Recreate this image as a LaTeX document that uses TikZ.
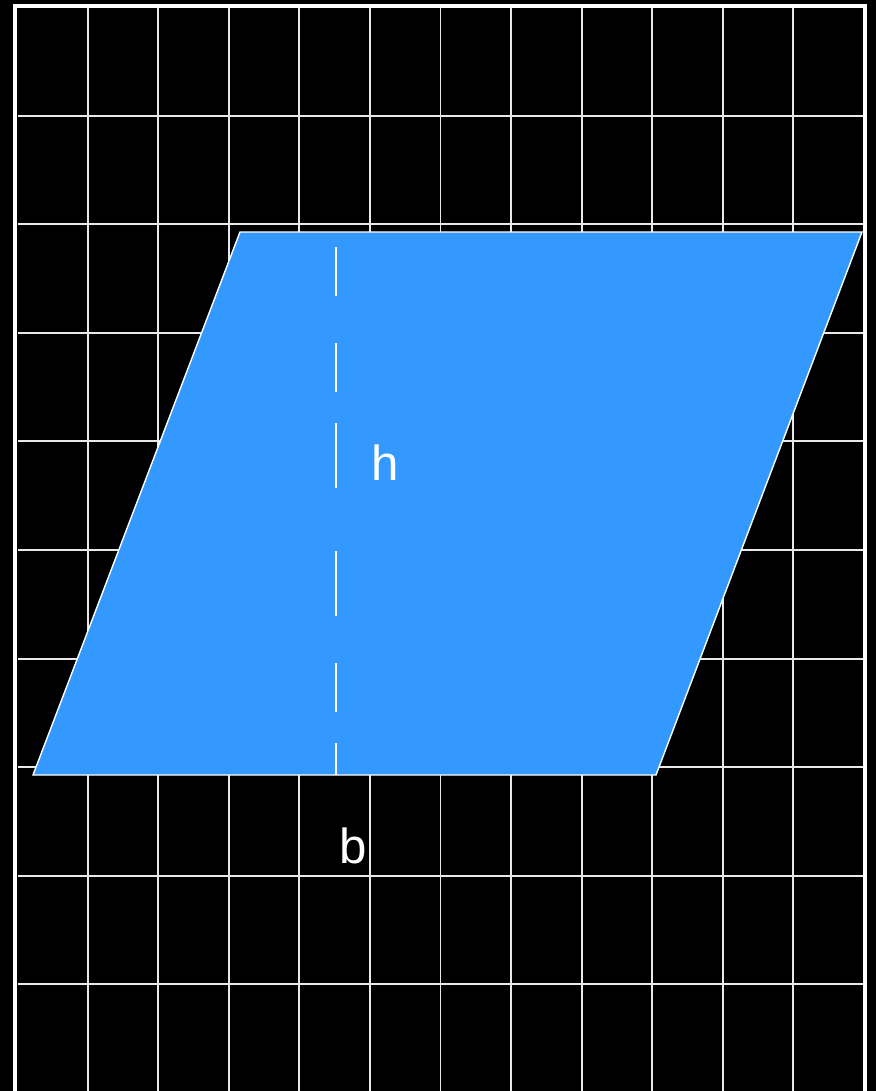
\documentclass[tikz,border=0pt]{standalone}
\usepackage{fontspec}
\setmainfont{Liberation Sans}
\usepackage{tikz}
\usetikzlibrary{positioning}

\definecolor{shapeblue}{RGB}{51,153,255}
\definecolor{gridgray}{RGB}{232,232,232}

\begin{document}
\begin{tikzpicture}[x=0.025cm, y=-0.025cm,
    gridline/.style={draw=gridgray, line width=1.4pt},
    frameline/.style={draw=white, line width=2.8pt},
    shapefill/.style={fill=shapeblue, draw=white, line width=1pt, line join=miter},
    heightline/.style={draw=white, line width=1.4pt, dash pattern=on 1.225cm off 1.175cm on 1.225cm off 0.775cm on 1.625cm off 1.575cm on 1.625cm off 1.175cm on 1.225cm off 0.775cm on 0.8cm off 2cm},
    lbl/.style={text=white, font=\fontsize{35}{40}\selectfont, inner sep=0pt}]

    % background and page size
    \fill[black] (0,0) rectangle (876,1091);
    \useasboundingbox (0,0) rectangle (876,1091);

    % grid
    \foreach \i in {1,...,11}
        \draw[gridline] ({17+70.58*\i},8) -- ({17+70.58*\i},1091);
    \foreach \j in {1,...,9}
        \draw[gridline] (18,{7+108.6*\j}) -- (863,{7+108.6*\j});
    \draw[frameline] (15,1091) -- (15,6) -- (865,6) -- (865,1091);

    % parallelogram
    \coordinate (tl) at (240,232);
    \coordinate (tr) at (862,232);
    \coordinate (br) at (656,775);
    \coordinate (bl) at (33,775);
    \path[shapefill] (bl) -- (tl) -- (tr) -- (br) -- cycle;

    % height
    \coordinate (htop) at (336,247);
    \coordinate (hfoot) at (336,775);
    \path[heightline] (htop) -- (hfoot);

    \node[lbl] (hlab) at (385,463) {h};
    \node[lbl] (blab) at (353,846) {b};

\end{tikzpicture}
\end{document}
